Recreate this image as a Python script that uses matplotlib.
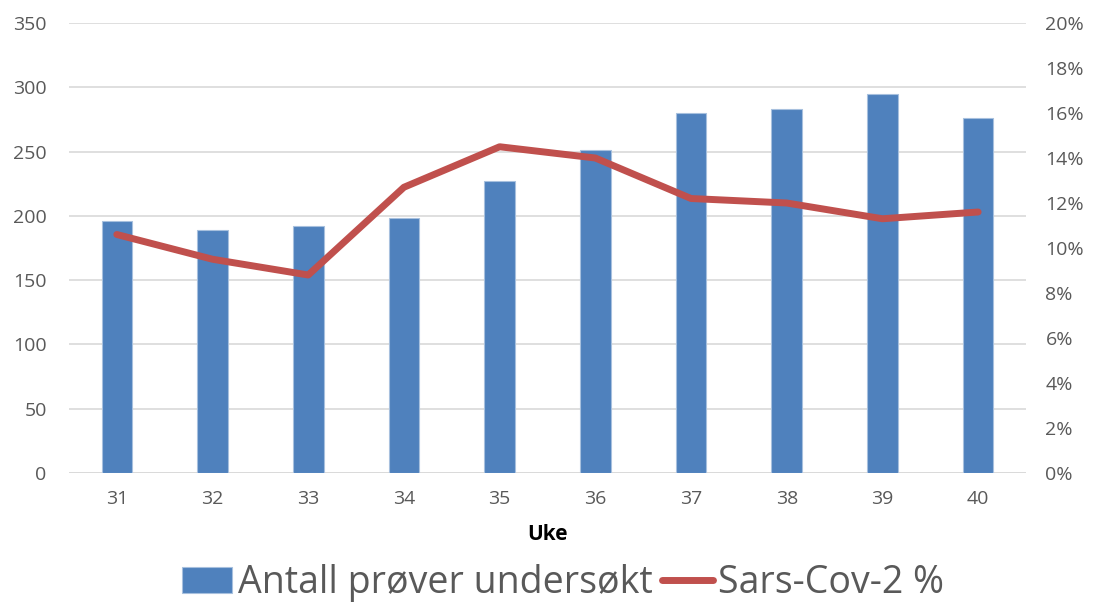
import matplotlib
matplotlib.use("Agg")
import matplotlib.pyplot as plt
from matplotlib.ticker import FuncFormatter, MultipleLocator

weeks = ["31", "32", "33", "34", "35", "36", "37", "38", "39", "40"]
antall = [196, 189, 192, 198, 227, 251, 280, 283, 295, 276]
sars_pct = [10.6, 9.5, 8.8, 12.7, 14.5, 14.0, 12.2, 12.0, 11.3, 11.6]

plt.rcParams["font.family"] = ["Open Sans", "DejaVu Sans"]

fig = plt.figure(figsize=(10.93, 6.04), dpi=100)
ax = fig.add_axes([0.0631, 0.2169, 0.8756, 0.745])
ax2 = ax.twinx()

x = list(range(len(weeks)))
bars = ax.bar(x, antall, width=0.32, color="#4F81BD", edgecolor="#A7C0DE",
              linewidth=0.8, zorder=2, label="Antall prøver undersøkt")
line, = ax2.plot(x, sars_pct, color="#C0504D", linewidth=5,
                 solid_capstyle="round", solid_joinstyle="round",
                 label="Sars-Cov-2 %")

ax.set_xlim(-0.5, len(weeks) - 0.5)
ax.set_ylim(0, 350)
ax.yaxis.set_major_locator(MultipleLocator(50))
ax2.set_ylim(0, 20)
ax2.yaxis.set_major_locator(MultipleLocator(2))
ax2.yaxis.set_major_formatter(FuncFormatter(lambda v, p: f"{v:.0f}%"))

ax.grid(axis="y", color="#D9D9D9", linewidth=1.2, zorder=0)
ax.set_axisbelow(True)

for a in (ax, ax2):
    for s in ("top", "left", "right", "bottom"):
        a.spines[s].set_visible(False)
    a.tick_params(length=0, labelsize=14, labelcolor="#595959")

ax.axhline(0, color="#D9D9D9", linewidth=1.2, zorder=1)
ax.set_xticks(x)
ax.set_xticklabels(weeks)
ax.tick_params(axis="x", pad=12)
ax.tick_params(axis="y", pad=16)
ax2.tick_params(axis="y", pad=14)

ax.set_xlabel("Uke", fontsize=15, fontweight="bold", color="black", labelpad=12)

fig.legend([bars, line], ["Antall prøver undersøkt", "Sars-Cov-2 %"],
           loc="center", bbox_to_anchor=(0.515, 0.034), ncol=2, frameon=False,
           fontsize=27, labelcolor="#595959", handlelength=1.35,
           handletextpad=0.15, columnspacing=0.25, borderaxespad=0)

fig.savefig("out.png", dpi=100)
